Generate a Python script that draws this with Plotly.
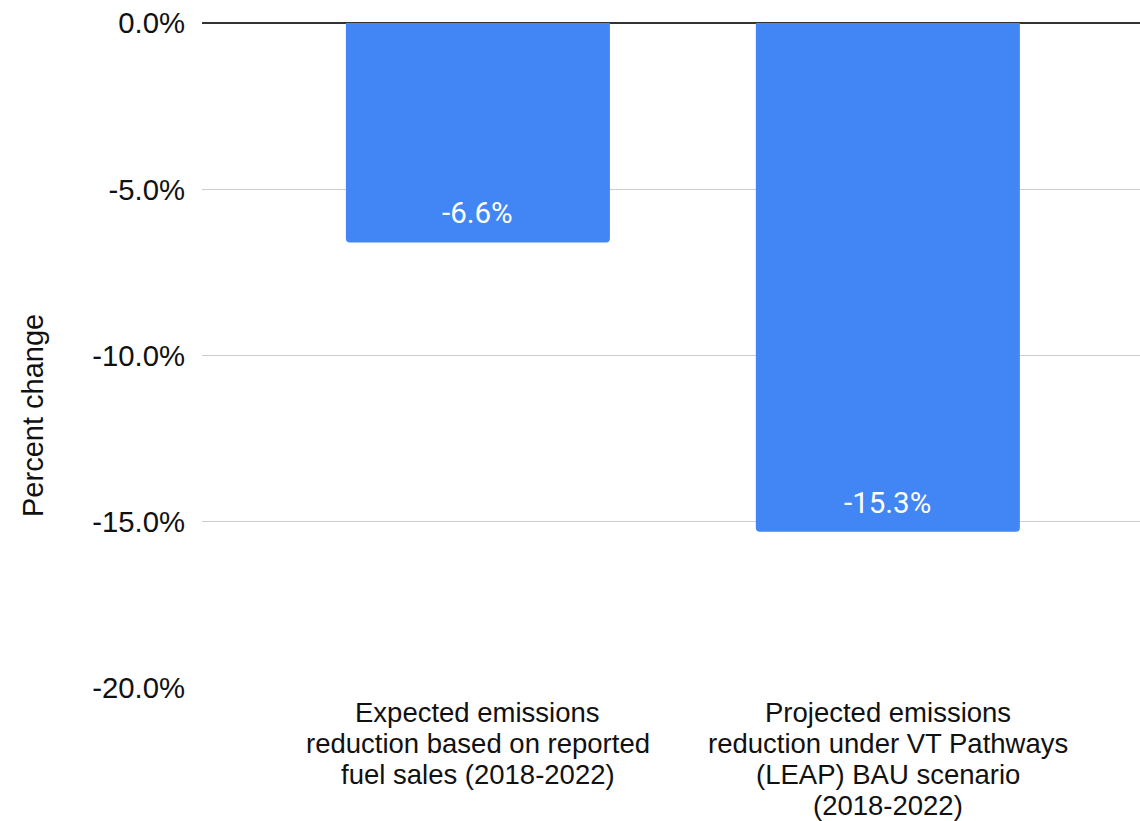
import plotly.graph_objects as go

# Chart data
categories = [
    "Expected emissions<br>reduction based on reported<br>fuel sales (2018-2022)",
    "Projected emissions<br>reduction under VT Pathways<br>(LEAP) BAU scenario<br>(2018-2022)",
]
values = [-6.6, -15.3]
y_ticks = [0, -5, -10, -15, -20]

BAR_COLOR = "#4285F4"
AXIS_FONT = "Liberation Sans, Arial, sans-serif"
LABEL_FONT = "Roboto, Arial, sans-serif"
TEXT_COLOR = "#111111"

W, H = 1140, 821
M_L, M_R, M_T, M_B = 202, 0, 23, 133
plot_h = H - M_T - M_B
plot_w = W - M_L - M_R

x_pos = list(range(len(categories)))

fig = go.Figure()
fig.add_trace(go.Bar(
    x=x_pos,
    y=values,
    width=0.644,
    marker=dict(color=BAR_COLOR, line=dict(width=0), cornerradius=4),
    hoverinfo="skip",
    showlegend=False,
))

annotations = []

# value labels just inside the end of each bar
for xi, v in zip(x_pos, values):
    annotations.append(dict(
        x=xi, y=v, xref="x", yref="y",
        text=f"{v:.1f}%", showarrow=False,
        font=dict(family=LABEL_FONT, size=29.5, color="white"),
        xanchor="center", yanchor="middle", yshift=29,
    ))

# category labels, one annotation per line for tight line spacing
LINE_GAP = 31
for xi, cat in zip(x_pos, categories):
    for i, line in enumerate(cat.split("<br>")):
        annotations.append(dict(
            x=xi, y=0, xref="x", yref="paper",
            text=line, showarrow=False,
            font=dict(family=AXIS_FONT, size=27.5, color=TEXT_COLOR),
            borderpad=0,
            xanchor="center", yanchor="middle",
            yshift=-(24 + i * LINE_GAP),
        ))

# y-axis title
annotations.append(dict(
    x=(33 - M_L) / plot_w, y=(H - M_B - 416) / plot_h,
    xref="paper", yref="paper",
    text="Percent change", textangle=-90, showarrow=False,
    font=dict(family=AXIS_FONT, size=29, color=TEXT_COLOR),
    xanchor="center", yanchor="middle",
))

fig.update_layout(
    width=W, height=H,
    margin=dict(l=M_L, r=M_R, t=M_T, b=M_B, pad=0),
    paper_bgcolor="white",
    plot_bgcolor="white",
    annotations=annotations,
    xaxis=dict(
        range=[-0.673, 1.615],
        showticklabels=False, showgrid=False, zeroline=False,
        showline=False, ticks="",
    ),
    yaxis=dict(
        range=[-20, 0],
        tickvals=y_ticks,
        ticktext=[f"{t:.1f}%" for t in y_ticks],
        tickfont=dict(family=AXIS_FONT, size=29.3, color=TEXT_COLOR),
        ticks="", ticklabelstandoff=16,
        showgrid=True, gridcolor="#cccccc", gridwidth=1.2,
        zeroline=True, zerolinecolor="#333333", zerolinewidth=1.6,
        showline=False,
    ),
)

fig.write_html("out.html")
